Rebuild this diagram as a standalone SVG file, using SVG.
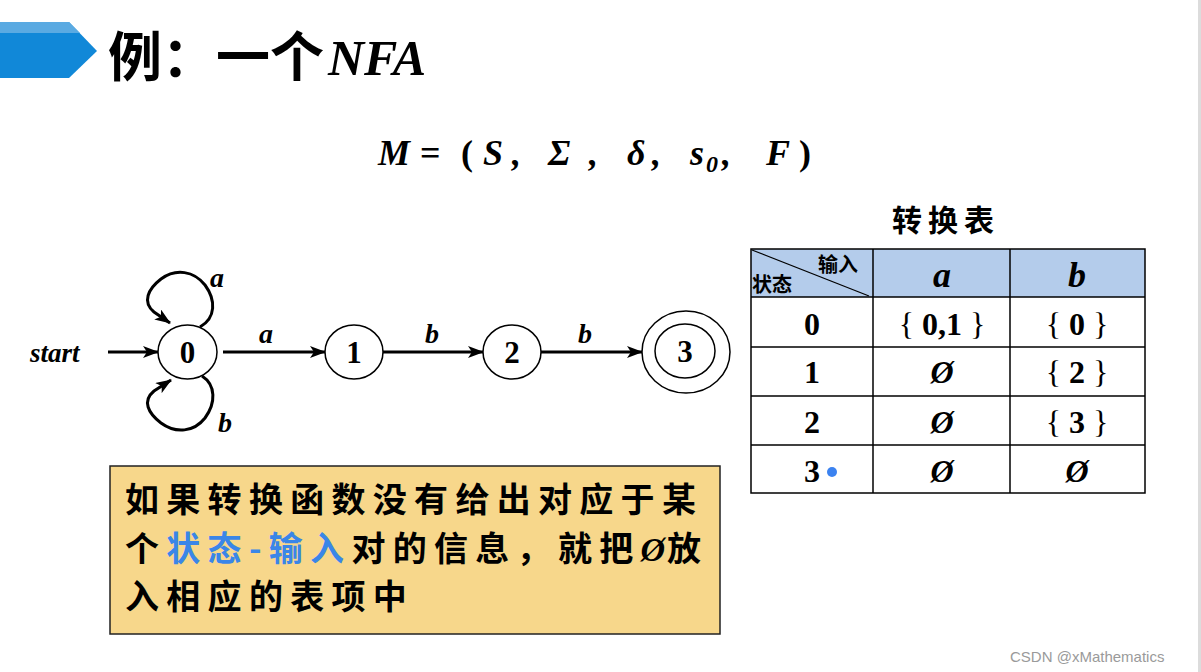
<svg xmlns="http://www.w3.org/2000/svg" width="1201" height="672" viewBox="0 0 1201 672">
<defs>
<style>
.ser{font-family:"Liberation Serif","Times New Roman",serif;font-weight:bold;}
.bi{font-family:"Liberation Serif","Times New Roman",serif;font-weight:bold;font-style:italic;}
.cjk{font-family:"Noto Sans CJK SC","Noto Sans",sans-serif;}
.node{fill:#fff;stroke:#000;stroke-width:1.5;}
.edge{fill:none;stroke:#000;stroke-width:3;marker-end:url(#arr);}
.cell{fill:none;stroke:#000;stroke-width:1.5;}
</style>
<marker id="arr" viewBox="0 0 16 12" refX="15" refY="6" markerWidth="16" markerHeight="12" markerUnits="userSpaceOnUse" orient="auto">
<path d="M0,0 L16,6 L0,12 L4,6 Z" fill="#000"/>
</marker>
</defs>
<rect width="1201" height="672" fill="#fff"/>
<rect x="1198" y="0" width="3" height="672" fill="#dcdcdc"/>

<g id="header">
<path d="M0,22 L69,22 L97,51 L69,78 L0,78 Z" fill="#1188D8"/>
<path d="M0,22 L69,22 L80,33 L0,33 Z" fill="#5AAAE2"/>
<text x="108" y="77" class="cjk" font-size="54" font-weight="bold" fill="#000">例：一个</text>
<text x="328" y="75" class="bi" font-size="50" fill="#000">NFA</text>
</g>

<g id="formula" class="bi" font-size="36" fill="#000">
<text x="378" y="165">M</text>
<text x="420" y="165" class="ser" font-style="normal">=</text>
<text x="461" y="165" class="ser" font-style="normal">(</text>
<text x="483" y="165">S</text>
<text x="512" y="165">,</text>
<text x="548" y="165">Σ</text>
<text x="589" y="165">,</text>
<text x="627" y="165">δ</text>
<text x="652" y="165">,</text>
<text x="690" y="165">s</text>
<text x="706" y="172" font-size="24">0</text>
<text x="722" y="165">,</text>
<text x="766" y="165">F</text>
<text x="799" y="165" class="ser" font-style="normal">)</text>
</g>

<g id="connectors">
<line class="edge" x1="108" y1="352" x2="158" y2="352"/>
<line class="edge" x1="223" y1="352" x2="325" y2="352"/>
<line class="edge" x1="383" y1="352" x2="483" y2="352"/>
<line class="edge" x1="541" y1="352" x2="642" y2="352"/>
<path class="edge" d="M200,327 C216,318 216,300 205,285 C194,271 176,268 161,279 C148,289 142,302 154,312 L170,323"/>
<path class="edge" d="M202,376 C216,385 216,403 205,418 C194,432 176,434 161,423 C148,413 142,401 154,391 L171,380"/>
<text x="30" y="362" class="bi" font-size="27">start</text>
<text x="210" y="287" class="bi" font-size="28">a</text>
<text x="218" y="432" class="bi" font-size="28">b</text>
<text x="266" y="343" class="bi" font-size="28" text-anchor="middle">a</text>
<text x="432" y="343" class="bi" font-size="28" text-anchor="middle">b</text>
<text x="585" y="343" class="bi" font-size="28" text-anchor="middle">b</text>
</g>

<g id="node0">
<ellipse class="node" cx="187.5" cy="352" rx="29.5" ry="27"/>
<text x="187.5" y="363" class="ser" font-size="31" text-anchor="middle">0</text>
</g>
<g id="node1">
<ellipse class="node" cx="354" cy="352" rx="29" ry="27"/>
<text x="354" y="363" class="ser" font-size="31" text-anchor="middle">1</text>
</g>
<g id="node2">
<ellipse class="node" cx="512" cy="352" rx="29" ry="27"/>
<text x="512" y="363" class="ser" font-size="31" text-anchor="middle">2</text>
</g>
<g id="node3">
<ellipse class="node" cx="686" cy="352" rx="44" ry="41"/>
<ellipse class="node" cx="685" cy="351" rx="30" ry="27"/>
<text x="685" y="362" class="ser" font-size="31" text-anchor="middle">3</text>
</g>

<g id="table">
<text x="892" y="231" class="cjk" font-size="30" font-weight="bold" letter-spacing="6">转换表</text>
<rect x="751" y="249" width="394" height="48" fill="#B4CCEB"/>
<rect class="cell" x="751" y="249" width="394" height="244"/>
<line class="cell" x1="873" y1="249" x2="873" y2="493"/>
<line class="cell" x1="1010" y1="249" x2="1010" y2="493"/>
<line class="cell" x1="751" y1="297" x2="1145" y2="297"/>
<line class="cell" x1="751" y1="347" x2="1145" y2="347"/>
<line class="cell" x1="751" y1="396" x2="1145" y2="396"/>
<line class="cell" x1="751" y1="445" x2="1145" y2="445"/>
<line x1="752" y1="250" x2="869" y2="296" stroke="#000" stroke-width="1.2"/>
<text x="818" y="272" class="cjk" font-size="20" font-weight="bold">输入</text>
<text x="752" y="292" class="cjk" font-size="20" font-weight="bold">状态</text>
<text x="942" y="287" class="bi" font-size="36" text-anchor="middle">a</text>
<text x="1077" y="287" class="bi" font-size="36" text-anchor="middle">b</text>

<g class="ser" font-size="32" text-anchor="middle">
<text x="812" y="335">0</text>
<text x="812" y="383">1</text>
<text x="812" y="433">2</text>
<text x="812" y="482">3</text>
<text x="942" y="335"><tspan font-weight="normal">{</tspan> 0,1 <tspan font-weight="normal">}</tspan></text>
<text x="1077" y="335"><tspan font-weight="normal">{</tspan> 0 <tspan font-weight="normal">}</tspan></text>
<text x="1077" y="383"><tspan font-weight="normal">{</tspan> 2 <tspan font-weight="normal">}</tspan></text>
<text x="1077" y="433"><tspan font-weight="normal">{</tspan> 3 <tspan font-weight="normal">}</tspan></text>
<text x="942" y="383" font-style="italic">Ø</text>
<text x="942" y="433" font-style="italic">Ø</text>
<text x="942" y="482" font-style="italic">Ø</text>
<text x="1077" y="482" font-style="italic">Ø</text>
</g>
<circle cx="832" cy="472" r="5" fill="#3B82F0"/>
</g>

<g id="note">
<rect x="110" y="466" width="610" height="168" fill="#F7D78B" stroke="#222" stroke-width="1.5"/>
<g class="cjk" font-size="34" font-weight="bold" letter-spacing="7.3" fill="#000">
<text x="125" y="512">如果转换函数没有给出对应于某</text>
<text x="125" y="561">个<tspan fill="#3A86E8">状态-输入</tspan>对的信息，就把<tspan class="bi" font-weight="normal" letter-spacing="2">Ø</tspan>放</text>
<text x="125" y="609">入相应的表项中</text>
</g>
</g>

<text x="1010" y="662" font-family="Liberation Sans, Arial, sans-serif" font-size="15" fill="#9a9a9a">CSDN @xMathematics</text>
</svg>
